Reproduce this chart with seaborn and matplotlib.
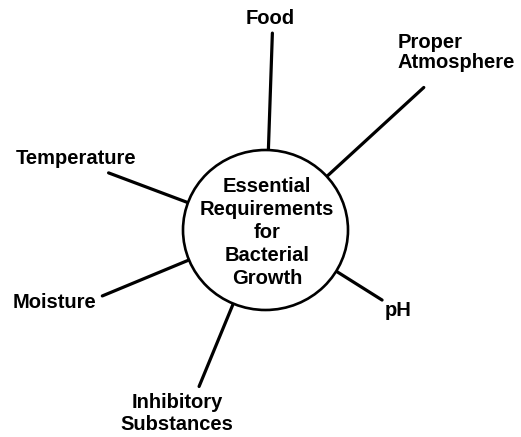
"""
Essential requirements for bacterial growth - spoke diagram
"""

import numpy as np
import pandas as pd
import matplotlib.pyplot as plt
import seaborn as sns
from matplotlib.patches import Ellipse


# Spoke data: label, direction (degrees, counter-clockwise from east), outer reach (px)
factors = ['Food', 'Proper Atmosphere', 'Temperature', 'Moisture', 'Inhibitory Substances', 'pH']
angles = [88, 42, 160, 202, 247, 329]
reach = [197, 213, 167, 176, 170, 136]

# label lines
label_lines = [['Food'], ['Proper', 'Atmosphere'], ['Temperature'], ['Moisture'],
               ['Inhibitory', 'Substances'], ['pH']]
center_lines = ['Essential', 'Requirements', 'for', 'Bacterial', 'Growth']


# Hub geometry (pixel space)
cx, cy = 265.5, 230
rx, ry = 82.5, 80


"""
Build spoke segments from the hub rim to their outer ends
"""
def build_spokes():
    rows = []
    for name, ang, r in zip(factors, angles, reach):
        t = np.deg2rad(ang)
        rows.append({'spoke': name, 'x': cx + rx * np.cos(t), 'y': cy - ry * np.sin(t)})
        rows.append({'spoke': name, 'x': cx + r * np.cos(t), 'y': cy - r * np.sin(t)})
    return pd.DataFrame(rows)


def main():
    sns.set_style('white')
    plt.rcParams['font.family'] = ['Liberation Sans', 'DejaVu Sans']
    plt.rcParams['text.color'] = 'black'

    fig = plt.figure(figsize=(5.21, 4.37), dpi=100)
    ax = fig.add_axes([0, 0, 1, 1])

    # Draw spokes
    df = build_spokes()
    sns.lineplot(data=df, x='x', y='y', units='spoke', estimator=None, sort=False,
                 color='black', linewidth=2.3, ax=ax, legend=False)

    # Hub circle
    ax.add_patch(Ellipse((cx, cy), 2 * rx, 2 * ry, facecolor='white',
                         edgecolor='black', linewidth=1.9, zorder=3))

    # Center text
    for i, line in enumerate(center_lines):
        ax.text(267, 187 + i * 22.8, line, ha='center', va='center',
                fontsize=14.5, fontweight='bold', color='black', zorder=4)

    # Outer labels: (x, first-line y, line step, alignment)
    label_pos = [(270, 19, 0, 'center'),
                 (398, 42, 20, 'left'),
                 (76, 158, 0, 'center'),
                 (54, 303, 0, 'center'),
                 (177, 402, 23, 'center'),
                 (398, 310, 0, 'center')]
    for lines, (lx, ly, step, ha) in zip(label_lines, label_pos):
        for j, line in enumerate(lines):
            ax.text(lx, ly + j * step, line, ha=ha, va='center',
                    fontsize=14.5, fontweight='bold', color='black')

    ax.set_xlim(0, 521)
    ax.set_ylim(437, 0)
    ax.set_aspect('auto')
    ax.axis('off')

    fig.savefig('out.png', dpi=100)
    plt.close(fig)


if __name__ == "__main__":
    main()
